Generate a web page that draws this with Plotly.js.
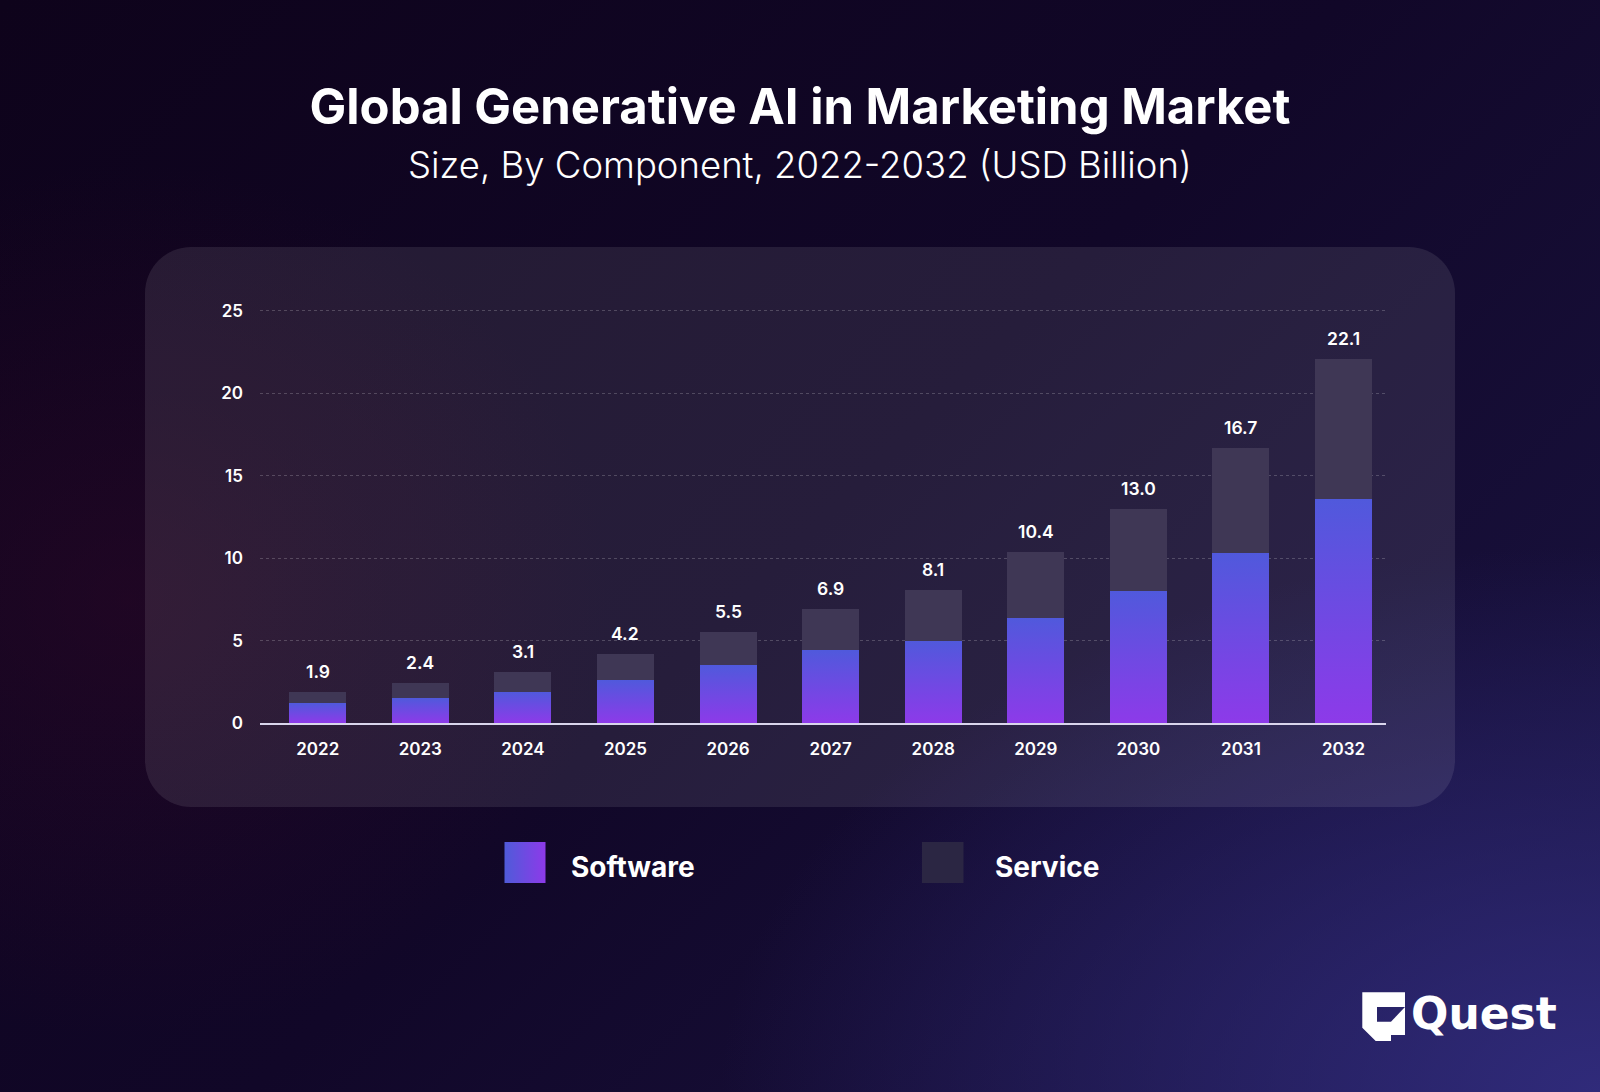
<!DOCTYPE html>
<html>
<head>
<meta charset="utf-8">
<script src="https://cdn.plot.ly/plotly-3.0.1.min.js"></script>
<style>
html,body{margin:0;padding:0;width:1600px;height:1092px;overflow:hidden;}
body{
  background:
    radial-gradient(ellipse 55% 50% at 100% 100%, rgba(50,45,128,0.9) 0%, rgba(50,45,128,0) 100%),
    radial-gradient(ellipse 30% 40% at 8% 55%, rgba(55,8,38,0.4) 0%, rgba(55,8,38,0) 100%),
    linear-gradient(135deg, #0e031b 0%, #110728 50%, #1b1545 100%);
}
#panel{position:absolute;left:145px;top:247px;width:1310px;height:560px;border-radius:46px;background:rgba(255,255,255,0.09);}
#chart{position:absolute;left:0;top:0;width:1600px;height:1092px;}
</style>
</head>
<body>
<div id="panel"></div>
<div id="chart"></div>
<script>
// ---- data ----
const years = ['2022','2023','2024','2025','2026','2027','2028','2029','2030','2031','2032'];
const software = [1.2, 1.5, 1.9, 2.6, 3.5, 4.4, 5.0, 6.4, 8.0, 10.3, 13.6];
const service  = [0.7, 0.9, 1.2, 1.6, 2.0, 2.5, 3.1, 4.0, 5.0, 6.4, 8.5];
const totals   = [1.9, 2.4, 3.1, 4.2, 5.5, 6.9, 8.1, 10.4, 13.0, 16.7, 22.1];
const seriesNames = ['Software', 'Service'];
const yTicks = [0, 5, 10, 15, 20, 25];
const titleText = 'Global Generative AI in Marketing Market';
const subtitleText = 'Size, By Component, 2022-2032 (USD Billion)';
const brandText = 'Quest';

// ---- geometry helpers ----
const W = 1600, H = 1092;
const M = {l: 260, r: 214, t: 308, b: 369};
const PW = W - M.l - M.r, PH = H - M.t - M.b;
const px2x = px => (px - M.l) / PW;
const py2y = py => (H - M.b - py) / PH;
const pathFrom = pts => 'M ' + pts.map(p => px2x(p[0]).toFixed(5) + ' ' + py2y(p[1]).toFixed(5)).join(' L ') + ' Z';

const FONT = 'Inter, "Noto Sans", sans-serif';
const WHITE = '#ffffff';
const SW_TMP = '#6c49e2';
const SERVICE_COLOR = '#3f3755';

const data = [
  {type:'bar', name: seriesNames[0], x: years, y: software, marker:{color: SW_TMP, line:{width:0}}, hoverinfo:'skip', showlegend:false},
  {type:'bar', name: seriesNames[1], x: years, y: service, marker:{color: SERVICE_COLOR, line:{width:0}}, hoverinfo:'skip', showlegend:false}
];

// value labels above the stacks (x given as category index)
const valueLabels = years.map((yr, i) => ({
  text: totals[i].toFixed(1), x: i, y: totals[i], xref:'x', yref:'y',
  xanchor:'center', yanchor:'bottom', yshift: 8, showarrow:false,
  font:{family: FONT, size: 17.5, weight: 600, color: WHITE}
}));

const logoP1 = [[1362.3,992.3],[1405,992.3],[1405,1007],[1377,1007],[1377,1021.7],[1391,1021.7],[1391,1041],[1375.7,1041],[1362.3,1027.7]];
const logoP2 = [[1405,1007],[1405,1035],[1391,1035],[1391,1021.7]];

const layout = {
  width: W, height: H,
  margin: M,
  paper_bgcolor: 'rgba(0,0,0,0)',
  plot_bgcolor: 'rgba(0,0,0,0)',
  barmode: 'stack',
  bargap: 0.445,
  showlegend: false,
  font: {family: FONT, color: WHITE},
  title: {text: titleText, font:{family: FONT, size: 49, weight: 700, color: WHITE},
          x: 0.5, xref: 'container', xanchor: 'center', y: 1 - 107/H, yref: 'container', yanchor: 'middle'},
  xaxis: {type:'category', range: [-0.563, 10.414], showgrid:false, zeroline:false,
          showline:true, linecolor:'#d9d5ec', linewidth:1.5,
          ticks:'', ticklabelstandoff: 10,
          tickfont:{family: FONT, size: 17, weight: 600, color: WHITE}},
  yaxis: {range:[0,25.18], tickvals: yTicks, ticktext: yTicks.map(String),
          showgrid:true, gridcolor:'rgba(255,255,255,0.2)', gridwidth:1, griddash:'3px,3px',
          zeroline:false, showline:false, ticks:'', ticklabelstandoff: 16,
          tickfont:{family: FONT, size: 17, weight: 600, color: WHITE}},
  annotations: [
    {text: subtitleText, xref:'paper', yref:'paper', x: px2x(800), y: py2y(165), xanchor:'center', yanchor:'middle',
     showarrow:false, font:{family: FONT, size: 36.5, weight: 300, color: WHITE}},
    {text: seriesNames[0], xref:'paper', yref:'paper', x: px2x(569), y: py2y(867), xanchor:'left', yanchor:'middle',
     showarrow:false, font:{family: FONT, size: 28, weight: 700, color: WHITE}},
    {text: seriesNames[1], xref:'paper', yref:'paper', x: px2x(993), y: py2y(867), xanchor:'left', yanchor:'middle',
     showarrow:false, font:{family: FONT, size: 28, weight: 700, color: WHITE}},
    {text: '<b>' + brandText + '</b>', xref:'paper', yref:'paper', x: px2x(1409), y: py2y(1013), xanchor:'left', yanchor:'middle',
     showarrow:false, font:{family: '"DejaVu Sans", sans-serif', size: 44, color: WHITE}}
  ].concat(valueLabels),
  shapes: [
    {type:'rect', xref:'paper', yref:'paper', x0: px2x(504.5), x1: px2x(545.5), y0: py2y(883), y1: py2y(842),
     fillcolor: SW_TMP, line:{width:0}},
    {type:'rect', xref:'paper', yref:'paper', x0: px2x(922), x1: px2x(963.5), y0: py2y(883), y1: py2y(842),
     fillcolor: '#2b2643', line:{width:0}},
    {type:'path', xref:'paper', yref:'paper', path: pathFrom(logoP1), fillcolor: WHITE, line:{width:0}},
    {type:'path', xref:'paper', yref:'paper', path: pathFrom(logoP2), fillcolor: WHITE, line:{width:0}}
  ]
};

Plotly.newPlot('chart', data, layout, {staticPlot:true, displayModeBar:false}).then(gd => {
  const ns = 'http://www.w3.org/2000/svg';
  const svg = gd.querySelector('.main-svg');
  let defs = svg.querySelector('defs');
  if (!defs) { defs = document.createElementNS(ns, 'defs'); svg.insertBefore(defs, svg.firstChild); }
  function addGrad(id, x2, y2, c0, c1) {
    const g = document.createElementNS(ns, 'linearGradient');
    g.setAttribute('id', id);
    g.setAttribute('x1', '0'); g.setAttribute('y1', '0');
    g.setAttribute('x2', String(x2)); g.setAttribute('y2', String(y2));
    [[0, c0], [1, c1]].forEach(([o, c]) => {
      const s = document.createElementNS(ns, 'stop');
      s.setAttribute('offset', String(o));
      s.setAttribute('stop-color', c);
      g.appendChild(s);
    });
    defs.appendChild(g);
  }
  addGrad('swGrad', 0, 1, '#5059dc', '#8d3ae9');
  addGrad('lgGrad', 1, 0, '#4f5bd9', '#8d3ae9');
  const traces = gd.querySelectorAll('.barlayer .trace');
  if (traces.length) traces[0].querySelectorAll('path').forEach(p => { p.style.fill = 'url(#swGrad)'; });
  gd.querySelectorAll('.shapelayer path').forEach(p => {
    if (p.style.fill === 'rgb(108, 73, 226)') p.style.fill = 'url(#lgGrad)';
  });
});
</script>
</body>
</html>
